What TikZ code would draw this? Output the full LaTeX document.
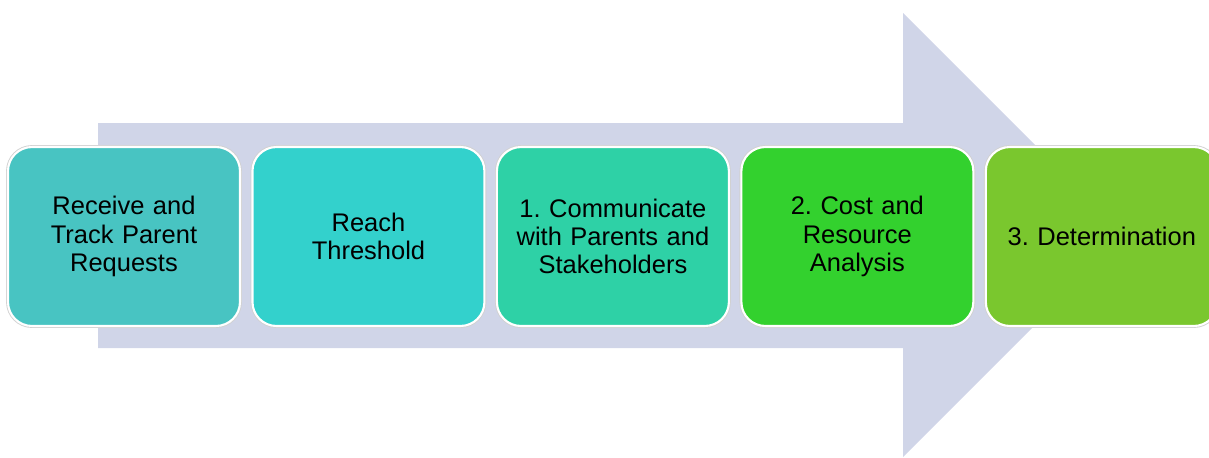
\documentclass[tikz,border=0pt]{standalone}
\usepackage{fontspec}
\setmainfont{Liberation Sans}
\usepackage{xcolor}
\usetikzlibrary{positioning}

\definecolor{arrowbg}{HTML}{D0D5E8}
\definecolor{stepa}{HTML}{48C4C2}
\definecolor{stepb}{HTML}{33D1CC}
\definecolor{stepc}{HTML}{2ED1A6}
\definecolor{stepd}{HTML}{33D12E}
\definecolor{stepe}{HTML}{7AC72E}

\begin{document}
\frenchspacing
\begin{tikzpicture}[x=0.02cm,y=-0.02cm,node distance=4.89cm,
    step box/.style={rectangle,rounded corners=0.48cm,minimum width=4.64cm,minimum height=3.58cm,
      draw=white,line width=1.2pt,preaction={draw=black!18,line width=2.2pt},
      align=center,font=\fontsize{14.5}{16}\selectfont,text width=4.2cm}]
    \useasboundingbox (0,0) rectangle (1209,457);
    \clip (0,0) rectangle (1209,457);

    % big arrow behind the steps
    \fill[arrowbg] (98,123) -- (903,123) -- (903,13) -- (1125,235) -- (903,457)
      -- (903,348) -- (98,348) -- cycle;

    \node[step box,fill=stepa] (receive) at (124,236.5) {Receive and\\Track Parent\\Requests};
    \node[step box,fill=stepb] (reach) [right of=receive] {Reach\\Threshold};
    \node[step box,fill=stepc] (communicate) [right of=reach] {1. Communicate\\with Parents and\\Stakeholders};
    \node[step box,fill=stepd] (cost) [right of=communicate] {2. Cost and\\Resource\\Analysis};
    \node[step box,fill=stepe] (determination) [right of=cost] {3. Determination};
\end{tikzpicture}
\end{document}
